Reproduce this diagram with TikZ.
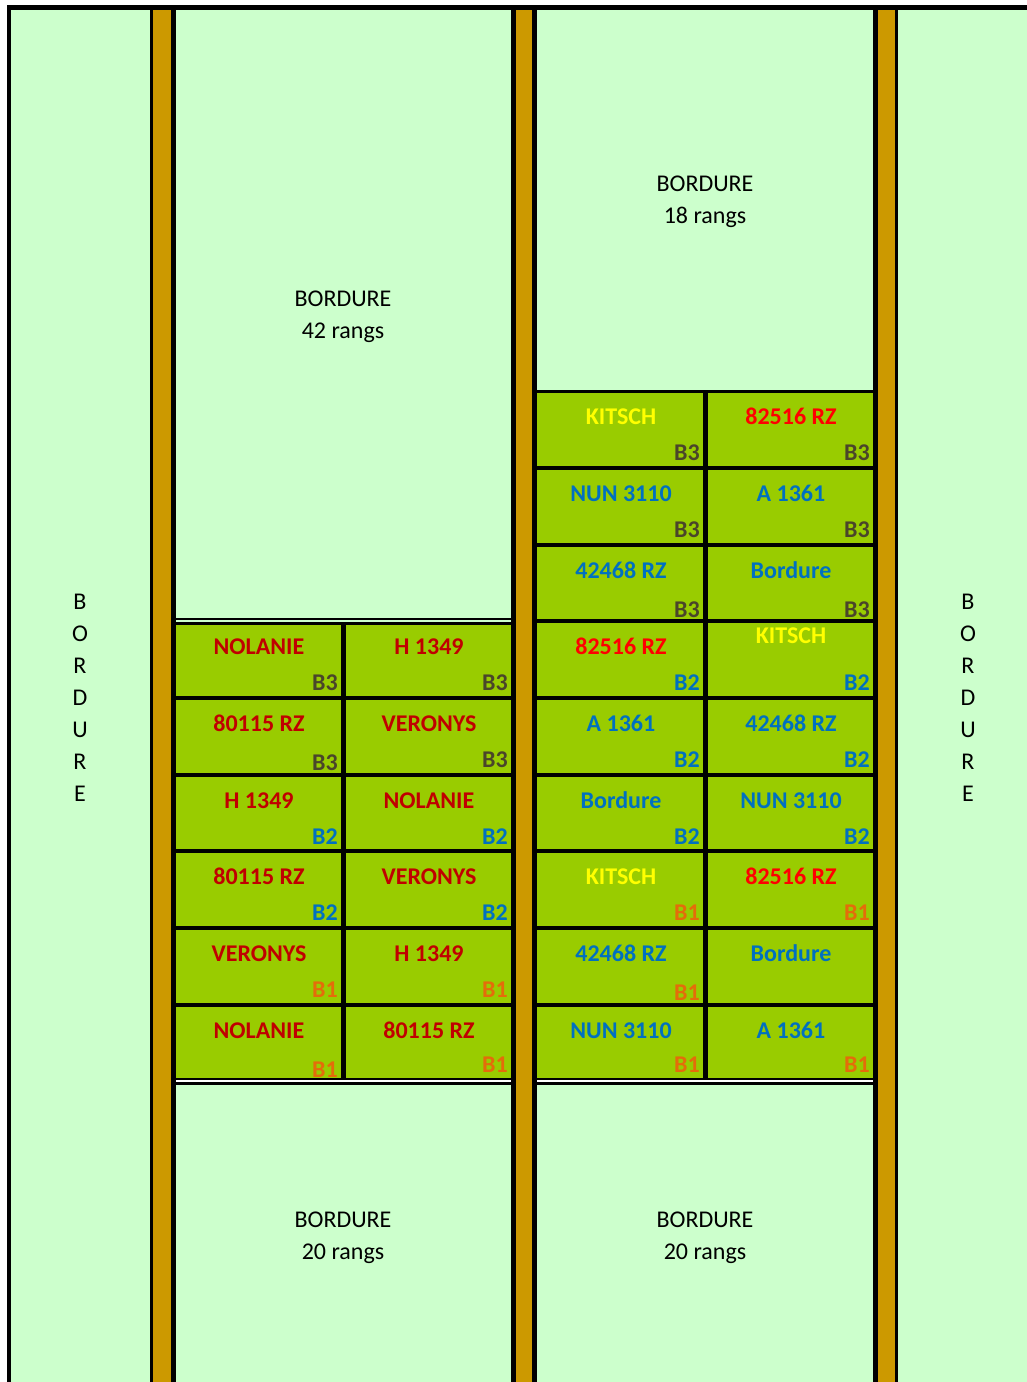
\documentclass[tikz,border=0pt]{standalone}
\usepackage{fontspec}
\setmainfont{Carlito}
\definecolor{lightg}{HTML}{CCFFCC}
\definecolor{cellg}{HTML}{99CC00}
\definecolor{pathc}{HTML}{CC9900}
\definecolor{dred}{HTML}{C00000}
\definecolor{bred}{HTML}{FF0000}
\definecolor{yel}{HTML}{FFFF00}
\definecolor{blu}{HTML}{0070C0}
\definecolor{bthree}{HTML}{4A452A}
\definecolor{bone}{HTML}{E46C0A}
\tikzset{
  cellname/.style={inner sep=0pt, text height=15.5pt, text depth=0pt, font=\fontsize{24}{29}\selectfont\bfseries, anchor=center, yshift=-1pt},
  blab/.style={inner sep=0pt, text height=15.5pt, text depth=0pt, font=\fontsize{24}{29}\selectfont\bfseries, anchor=east, yshift=-1pt},
  bordtext/.style={inner sep=0pt, align=center, font=\fontsize{24}{32}\selectfont, anchor=center, yshift=-3pt},
}
\begin{document}
\begin{tikzpicture}[x=1pt,y=-1pt]
\useasboundingbox (0,0) rectangle (1027,1382);
\fill[white] (0,0) rectangle (1027,1382);
% outer frame and field
\fill[black] (7,5) rectangle (1027,1382);
\fill[lightg] (11,10) rectangle (1027,1382);
% paths
\foreach \a/\b/\c/\d in {150/153/171/176, 511/516/532/537, 873/878/895/898}{
  \fill[black] (\a,10) rectangle (\d,1382);
  \fill[pathc] (\b,10) rectangle (\c,1382);
}
% left grid
\fill[black] (176,618) rectangle (511,1085);
\fill[lightg] (176,620) rectangle (511,622);
\fill[white] (176,1080) rectangle (511,1082);
\foreach \t/\b in {625/696,700/773,777/849,853/926,930/1003,1007/1078}{
  \fill[cellg] (176,\t) rectangle (341,\b);
  \fill[cellg] (346,\t) rectangle (511,\b);
}
% right grid
\fill[black] (537,390) rectangle (873,1085);
\fill[white] (537,1080) rectangle (873,1082);
\foreach \t/\b in {393/466,470/543,547/619,623/696,700/773,777/849,853/926,930/1003,1007/1078}{
  \fill[cellg] (537,\t) rectangle (703,\b);
  \fill[cellg] (708,\t) rectangle (873,\b);
}
% bordure texts
\node[bordtext] (b42) at (343,314) {BORDURE\\42 rangs};
\node[bordtext] (b18) at (705,199) {BORDURE\\18 rangs};
\node[bordtext] (b20l) at (343,1235) {BORDURE\\20 rangs};
\node[bordtext] (b20r) at (705,1235) {BORDURE\\20 rangs};
\node[bordtext] (bvl) at (80,695) {B\\O\\R\\D\\U\\R\\E};
\node[bordtext] (bvr) at (968,695) {B\\O\\R\\D\\U\\R\\E};
% left grid names
\node[cellname,text=dred] (l11) at (259,646) {NOLANIE};
\node[cellname,text=dred] (l12) at (429,646) {H 1349};
\node[cellname,text=dred] (l21) at (259,723) {80115 RZ};
\node[cellname,text=dred] (l22) at (429,723) {VERONYS};
\node[cellname,text=dred] (l31) at (259,800) {H 1349};
\node[cellname,text=dred] (l32) at (429,800) {NOLANIE};
\node[cellname,text=dred] (l41) at (259,876) {80115 RZ};
\node[cellname,text=dred] (l42) at (429,876) {VERONYS};
\node[cellname,text=dred] (l51) at (259,953) {VERONYS};
\node[cellname,text=dred] (l52) at (429,953) {H 1349};
\node[cellname,text=dred] (l61) at (259,1030) {NOLANIE};
\node[cellname,text=dred] (l62) at (429,1030) {80115 RZ};
% left grid labels
\node[blab,text=bthree] (lb11) at (338,682) {B3};
\node[blab,text=bthree] (lb12) at (508,682) {B3};
\node[blab,text=bthree] (lb21) at (338,762) {B3};
\node[blab,text=bthree] (lb22) at (508,759) {B3};
\node[blab,text=blu] (lb31) at (338,836) {B2};
\node[blab,text=blu] (lb32) at (508,836) {B2};
\node[blab,text=blu] (lb41) at (338,912) {B2};
\node[blab,text=blu] (lb42) at (508,912) {B2};
\node[blab,text=bone] (lb51) at (338,989) {B1};
\node[blab,text=bone] (lb52) at (508,989) {B1};
\node[blab,text=bone] (lb61) at (338,1069) {B1};
\node[blab,text=bone] (lb62) at (508,1064) {B1};
% right grid names
\node[cellname,text=yel] (r11) at (621,416) {KITSCH};
\node[cellname,text=bred] (r12) at (791,416) {82516 RZ};
\node[cellname,text=blu] (r21) at (621,493) {NUN 3110};
\node[cellname,text=blu] (r22) at (791,493) {A 1361};
\node[cellname,text=blu] (r31) at (621,570) {42468 RZ};
\node[cellname,text=blu] (r32) at (791,570) {Bordure};
\node[cellname,text=bred] (r41) at (621,646) {82516 RZ};
\node[cellname,text=yel] (r42) at (791,635) {KITSCH};
\node[cellname,text=blu] (r51) at (621,723) {A 1361};
\node[cellname,text=blu] (r52) at (791,723) {42468 RZ};
\node[cellname,text=blu] (r61) at (621,800) {Bordure};
\node[cellname,text=blu] (r62) at (791,800) {NUN 3110};
\node[cellname,text=yel] (r71) at (621,876) {KITSCH};
\node[cellname,text=bred] (r72) at (791,876) {82516 RZ};
\node[cellname,text=blu] (r81) at (621,953) {42468 RZ};
\node[cellname,text=blu] (r82) at (791,953) {Bordure};
\node[cellname,text=blu] (r91) at (621,1030) {NUN 3110};
\node[cellname,text=blu] (r92) at (791,1030) {A 1361};
% right grid labels
\node[blab,text=bthree] (rb11) at (700,452) {B3};
\node[blab,text=bthree] (rb12) at (870,452) {B3};
\node[blab,text=bthree] (rb21) at (700,529) {B3};
\node[blab,text=bthree] (rb22) at (870,529) {B3};
\node[blab,text=bthree] (rb31) at (700,609) {B3};
\node[blab,text=bthree] (rb32) at (870,609) {B3};
\node[blab,text=blu] (rb41) at (700,682) {B2};
\node[blab,text=blu] (rb42) at (870,682) {B2};
\node[blab,text=blu] (rb51) at (700,759) {B2};
\node[blab,text=blu] (rb52) at (870,759) {B2};
\node[blab,text=blu] (rb61) at (700,836) {B2};
\node[blab,text=blu] (rb62) at (870,836) {B2};
\node[blab,text=bone] (rb71) at (700,912) {B1};
\node[blab,text=bone] (rb72) at (870,912) {B1};
\node[blab,text=bone] (rb81) at (700,992) {B1};
\node[blab,text=bone] (rb91) at (700,1064) {B1};
\node[blab,text=bone] (rb92) at (870,1064) {B1};
\end{tikzpicture}
\end{document}
